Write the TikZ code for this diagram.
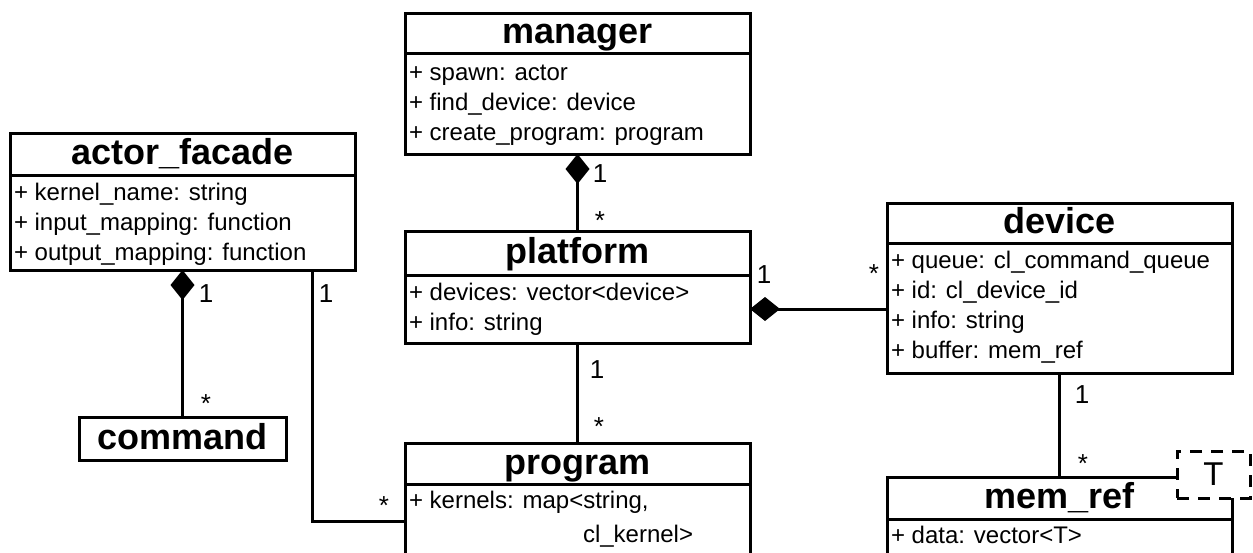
\documentclass[tikz,border=0pt]{standalone}
\usepackage{fontspec}
\setmainfont{Liberation Sans}
\usetikzlibrary{arrows.meta,calc}
\newcommand\firstln{\rule{0pt}{20pt}}
\begin{document}
\begin{tikzpicture}[x=1pt,y=-1pt,
  every node/.style={inner sep=0pt, outer sep=0pt},
  box/.style={draw, line width=3pt, line join=miter, fill=white, minimum width=345pt, anchor=north west},
  classtitle/.style={box, font=\bfseries\fontsize{36}{40}\selectfont, text height=27pt, text depth=6pt},
  attr/.style={anchor=north west, align=left, font=\fontsize{24}{30}\selectfont},
  mult/.style={anchor=base, font=\fontsize{26}{30}\selectfont},
  conn/.style={line width=3pt},
  comp/.style={conn, {Diamond[length=30pt,width=24pt]}-},
  tpl/.style={draw, line width=3pt, dash pattern=on 12pt off 9pt, fill=white, minimum width=73pt, minimum height=47pt, font=\fontsize{33}{36}\selectfont},
]
\clip (0,0) rectangle (1253,552);
\fill[white] (0,0) rectangle (1253,552);

% manager
\node[classtitle, minimum height=40pt] (manT) at (405,13) {manager};
\node[box, minimum height=101pt] (manB) at (manT.south west) {};
\node[attr] (manA) at ($(manB.north west)+(4,7)$) {\firstln+ spawn: actor\\+ find\_device: device\\+ create\_program: program};

% actor_facade
\node[classtitle, minimum height=42pt] (actT) at (10,133) {actor\_facade};
\node[box, minimum height=95pt] (actB) at (actT.south west) {};
\node[attr] (actA) at ($(actB.north west)+(4,5)$) {\firstln+ kernel\_name: string\\+ input\_mapping: function\\+ output\_mapping: function};

% platform
\node[classtitle, minimum height=44pt] (platT) at (405,231) {platform};
\node[box, minimum height=68pt] (platB) at (platT.south west) {};
\node[attr] (platA) at ($(platB.north west)+(4,5)$) {\firstln+ devices: vector<device>\\+ info: string};

% device
\node[classtitle, minimum height=40pt] (devT) at (887,203) {device};
\node[box, minimum height=130pt] (devB) at (devT.south west) {};
\node[attr] (devA) at ($(devB.north west)+(4,5)$) {\firstln+ queue: cl\_command\_queue\\+ id: cl\_device\_id\\+ info: string\\+ buffer: mem\_ref};

% command
\node[classtitle, minimum width=207pt, minimum height=43pt] (cmd) at (79,417) {command};

% program
\node[classtitle, minimum height=41pt] (progT) at (405,443) {program};
\node[box, minimum height=120pt] (progB) at (progT.south west) {};
\node[attr] (progA) at ($(progB.north west)+(4,4)$) {\firstln+ kernels: map<string,\\[4pt]\hspace*{174pt}cl\_kernel>};

% mem_ref
\node[classtitle, minimum height=42pt] (memT) at (887,477) {mem\_ref};
\node[box, minimum height=100pt] (memB) at (memT.south west) {};
\node[attr] (memA) at ($(memB.north west)+(4,4)$) {\firstln+ data: vector<T>};
\node[tpl] (memTpl) at (1213.5,474.5) {T};

% connectors
\draw[comp] (manB.south) -- (platT.north);
\draw[comp] (actB.south) -- (cmd.north);
\draw[conn] ($(actB.south west)+(302,0)$) |- ($(progB.north west)+(0,37)$);
\draw[conn] (platB.south) -- (progT.north);
\draw[comp] (platB.east) -- (platB.east -| devB.west);
\draw[conn] (devB.south) -- (memT.north);

% multiplicities
\node[mult] (m1) at (600,182) {1};
\node[mult] (m2) at (600,229) {*};
\node[mult] (a1) at (206,302) {1};
\node[mult] (a2) at (206,412) {*};
\node[mult] (ap1) at (326,302) {1};
\node[mult] (ap2) at (384,514) {*};
\node[mult] (pp1) at (597,378) {1};
\node[mult] (pp2) at (599,435) {*};
\node[mult] (pd1) at (764,283) {1};
\node[mult] (pd2) at (874,282) {*};
\node[mult] (dm1) at (1082,403) {1};
\node[mult] (dm2) at (1083,472) {*};
\end{tikzpicture}
\end{document}
